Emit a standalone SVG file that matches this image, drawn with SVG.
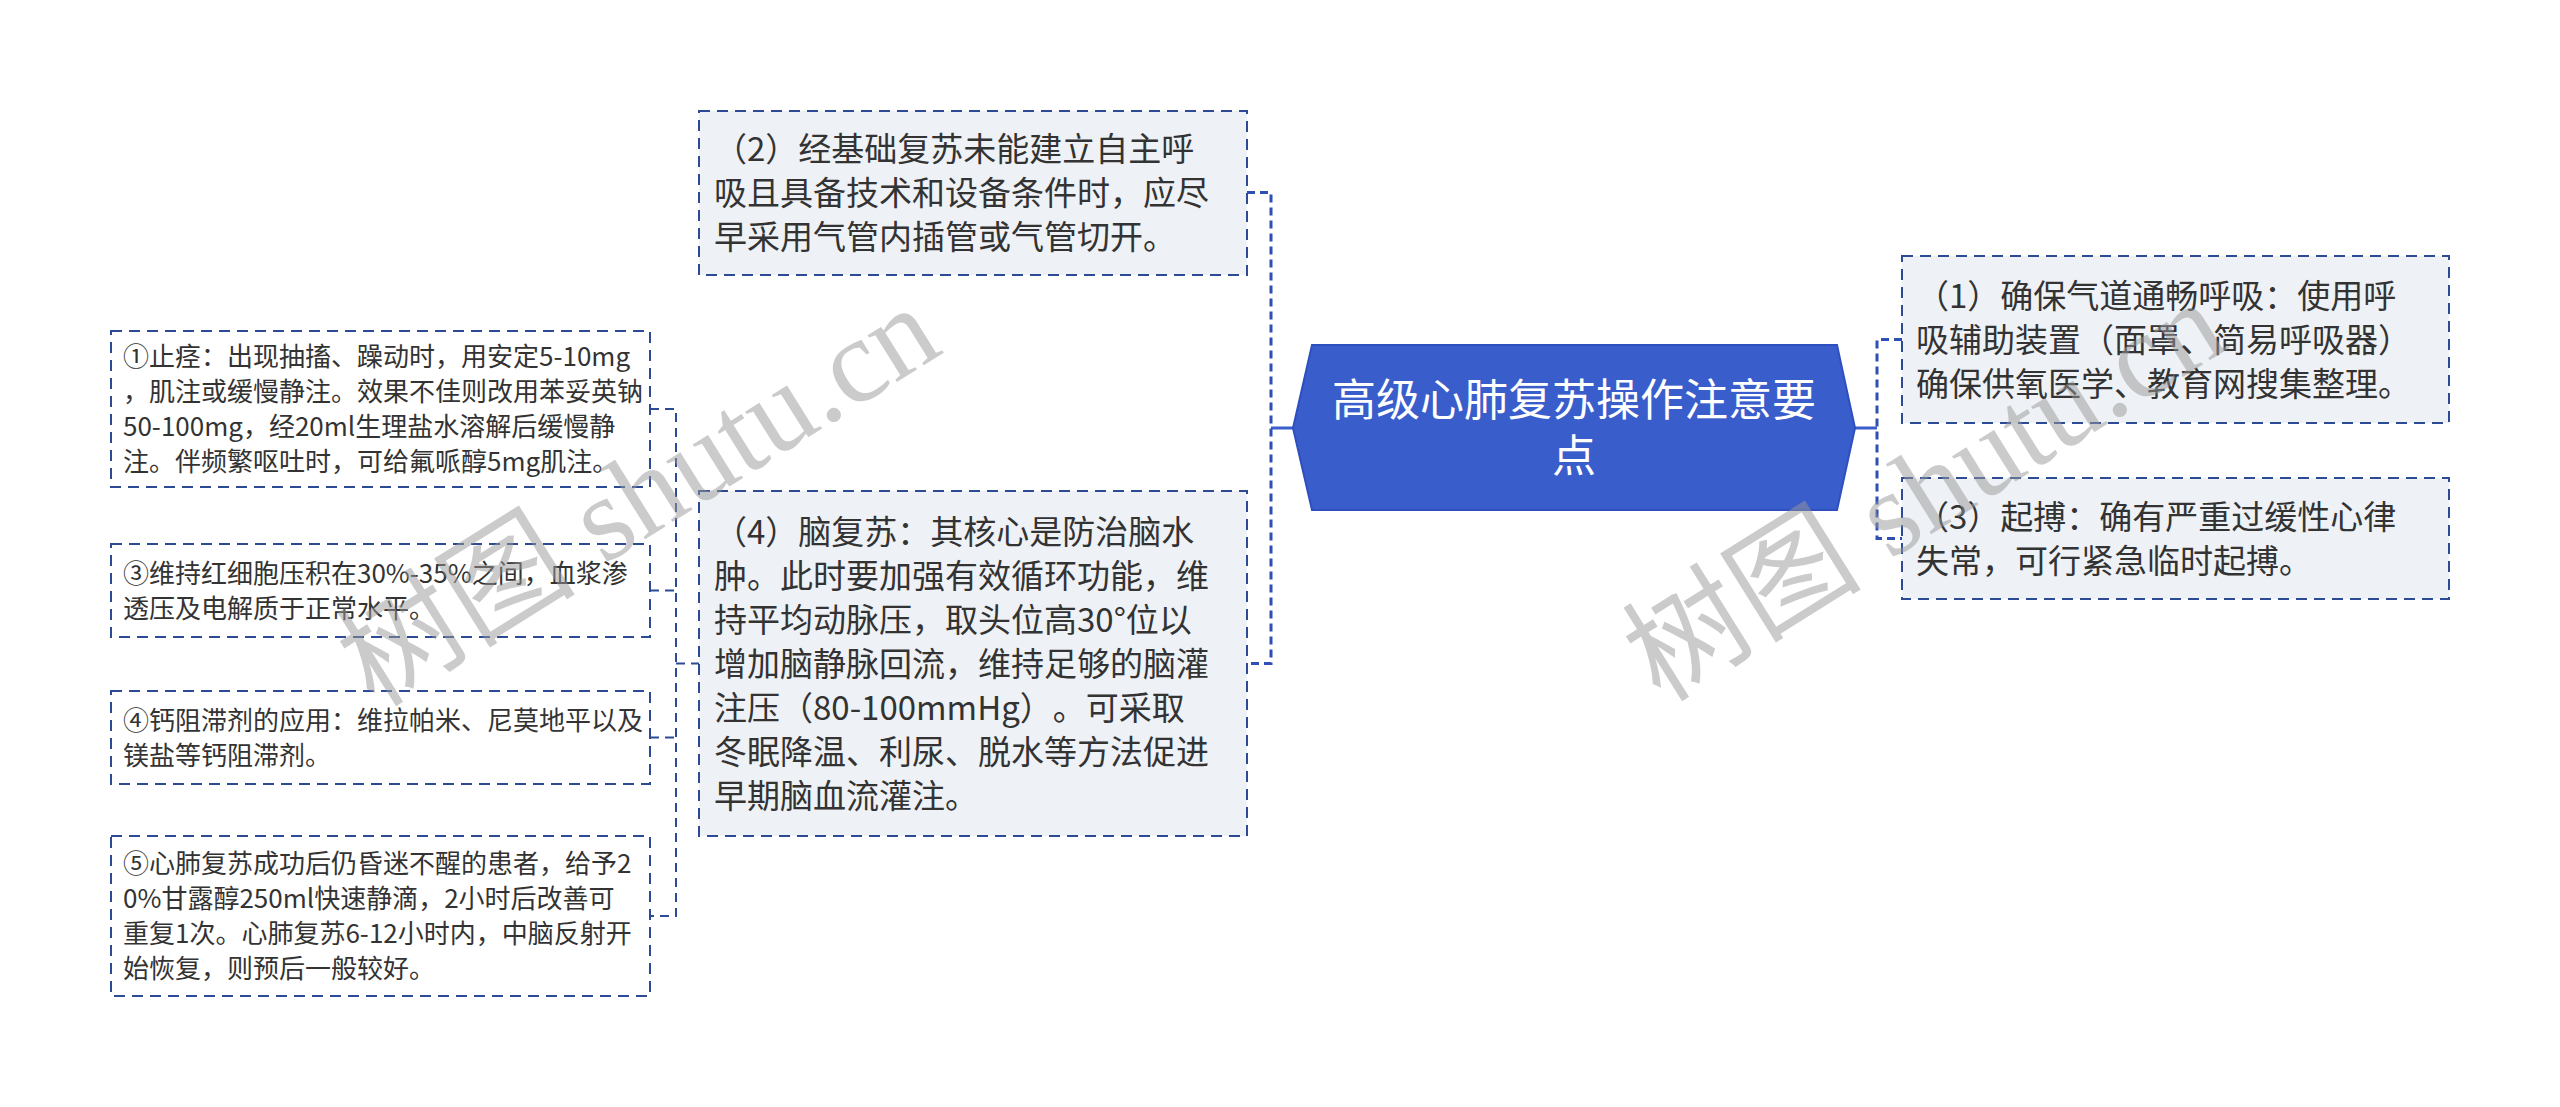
<svg xmlns="http://www.w3.org/2000/svg" width="2560" height="1107" viewBox="0 0 2560 1107">
<style>
.bg{fill:#ffffff}
.box{fill:#eef1f5;stroke:#2d4b94;stroke-width:2;stroke-dasharray:11 7}
.sbox{fill:#ffffff;stroke:#2d4b94;stroke-width:2;stroke-dasharray:11 7}
.root{fill:#3a5dcc;stroke:#2e4fbf;stroke-width:2}
text{text-spacing-trim:space-all}
.t{font-family:"Noto Sans CJK SC","Noto Sans",sans-serif;font-size:33px;fill:#333333}
.st{font-family:"Noto Sans CJK SC","Noto Sans",sans-serif;font-size:26px;fill:#333333}
.rt{font-family:"Noto Sans CJK SC","Noto Sans",sans-serif;font-size:44px;fill:#ffffff;text-anchor:middle}
.solid{fill:none;stroke:#3a5dcc;stroke-width:3}
.dash{fill:none;stroke:#2f4fb5;stroke-width:3;stroke-dasharray:8 5}
.dash2{fill:none;stroke:#2d4b94;stroke-width:2;stroke-dasharray:9 6}
.wm{font-family:"Liberation Serif","Noto Sans CJK SC",serif;font-size:120px;fill:#999999;opacity:0.5;text-anchor:middle}
</style>
<rect class="bg" x="0" y="0" width="2560" height="1107"/>
<g id="connectors">
<path class="solid" d="M1293,428 H1271"/>
<path class="solid" d="M1855,428 H1877"/>
<path class="dash" d="M1247,192.5 H1271 V663.5 H1247"/>
<path class="dash" d="M1902,339.5 H1877 V538.5 H1902"/>
<path class="dash2" d="M650,409 H676 V916 H650"/>
<path class="dash2" d="M650,590.5 H676"/>
<path class="dash2" d="M650,737.5 H676"/>
<path class="dash2" d="M676,663.5 H699"/>
</g>
<g id="root">
<polygon class="root" points="1312,345 1837,345 1855,428 1837,510 1312,510 1293,428"/>
<text class="rt"><tspan x="1574" y="416">高级心肺复苏操作注意要</tspan><tspan x="1574" y="472">点</tspan></text>
</g>
<g id="n2">
<rect class="box" x="699" y="111" width="548" height="164"/>
<text class="t" x="714" y="160.5">（2）经基础复苏未能建立自主呼</text>
<text class="t" x="714" y="204.5">吸且具备技术和设备条件时，应尽</text>
<text class="t" x="714" y="248.5">早采用气管内插管或气管切开。</text>
</g>
<g id="n4">
<rect class="box" x="699" y="491" width="548" height="345"/>
<text class="t" x="714" y="543.5">（4）脑复苏：其核心是防治脑水</text>
<text class="t" x="714" y="587.5">肿。此时要加强有效循环功能，维</text>
<text class="t" x="714" y="631.5">持平均动脉压，取头位高30°位以</text>
<text class="t" x="714" y="675.5">增加脑静脉回流，维持足够的脑灌</text>
<text class="t" x="714" y="719.5">注压（80-100mmHg）。可采取</text>
<text class="t" x="714" y="763.5">冬眠降温、利尿、脱水等方法促进</text>
<text class="t" x="714" y="807.5">早期脑血流灌注。</text>
</g>
<g id="n1">
<rect class="box" x="1902" y="256" width="547" height="167"/>
<text class="t" x="1916" y="307.5">（1）确保气道通畅呼吸：使用呼</text>
<text class="t" x="1916" y="351.5">吸辅助装置（面罩、简易呼吸器）</text>
<text class="t" x="1916" y="395.5">确保供氧医学、教育网搜集整理。</text>
</g>
<g id="n3">
<rect class="box" x="1902" y="478" width="547" height="121"/>
<text class="t" x="1916" y="528.5">（3）起搏：确有严重过缓性心律</text>
<text class="t" x="1916" y="572.5">失常，可行紧急临时起搏。</text>
</g>
<g id="s1">
<rect class="sbox" x="111" y="331" width="539" height="156"/>
<text class="st" x="123" y="366">①止痉：出现抽搐、躁动时，用安定5-10mg</text>
<text class="st" x="123" y="401">，肌注或缓慢静注。效果不佳则改用苯妥英钠</text>
<text class="st" x="123" y="436">50-100mg，经20ml生理盐水溶解后缓慢静</text>
<text class="st" x="123" y="471">注。伴频繁呕吐时，可给氟哌醇5mg肌注。</text>
</g>
<g id="s3">
<rect class="sbox" x="111" y="544" width="539" height="93"/>
<text class="st" x="123" y="582.5">③维持红细胞压积在30%-35%之间，血浆渗</text>
<text class="st" x="123" y="617.5">透压及电解质于正常水平。</text>
</g>
<g id="s4">
<rect class="sbox" x="111" y="691" width="539" height="93"/>
<text class="st" x="123" y="729.5">④钙阻滞剂的应用：维拉帕米、尼莫地平以及</text>
<text class="st" x="123" y="764.5">镁盐等钙阻滞剂。</text>
</g>
<g id="s5">
<rect class="sbox" x="111" y="836" width="539" height="160"/>
<text class="st" x="123" y="873">⑤心肺复苏成功后仍昏迷不醒的患者，给予2</text>
<text class="st" x="123" y="908">0%甘露醇250ml快速静滴，2小时后改善可</text>
<text class="st" x="123" y="943">重复1次。心肺复苏6-12小时内，中脑反射开</text>
<text class="st" x="123" y="978">始恢复，则预后一般较好。</text>
</g>
<g id="watermarks">
<text class="wm" transform="translate(660,530) rotate(-32)">树图 shutu.cn</text>
<text class="wm" transform="translate(1946,525) rotate(-32)">树图 shutu.cn</text>
</g>
</svg>
